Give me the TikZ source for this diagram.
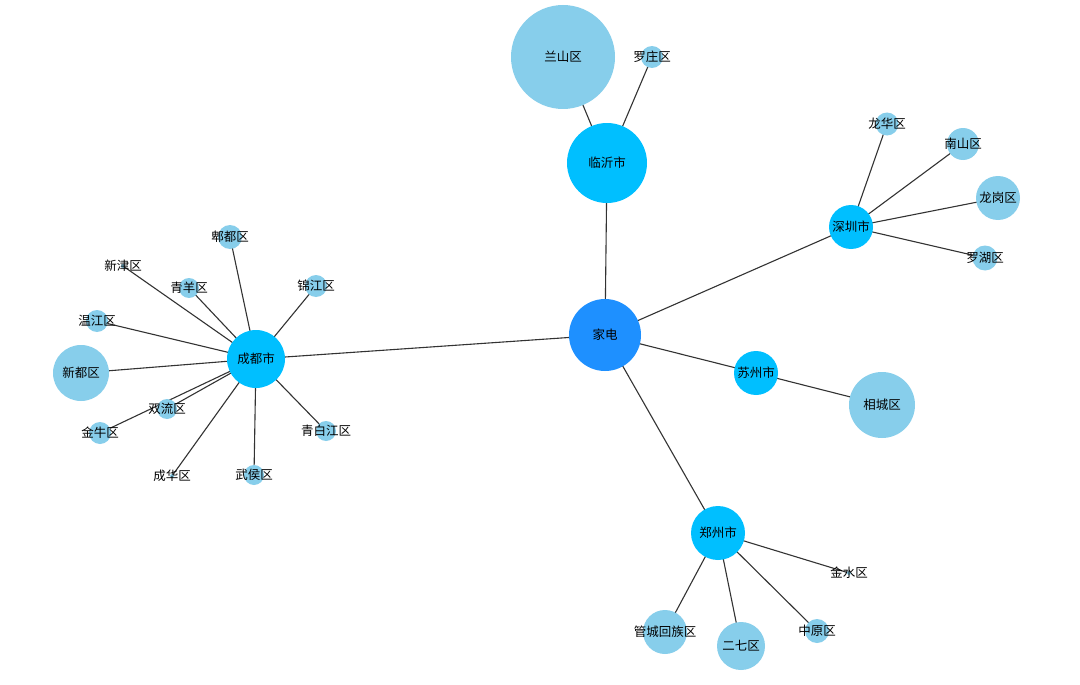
\documentclass[tikz,border=0pt]{standalone}
\usepackage{fontspec}
\setmainfont{Noto Sans CJK SC}
\usetikzlibrary{backgrounds}
\definecolor{rootc}{HTML}{1E90FF}
\definecolor{cityc}{HTML}{00BFFF}
\definecolor{distc}{HTML}{87CEEB}
\definecolor{edgec}{HTML}{333333}
\tikzset{
  nd/.style 2 args={circle,inner sep=0pt,minimum size=#1,
    label={[text=black,inner sep=0pt,font=\fontsize{12.5}{14}\selectfont]center:#2}},
  root/.style 2 args={nd={#1}{#2},fill=rootc},
  city/.style 2 args={nd={#1}{#2},fill=cityc},
  dist/.style 2 args={nd={#1}{#2},fill=distc},
  edge/.style={draw=edgec,line width=1.1pt}
}
\begin{document}
\begin{tikzpicture}[x=1pt,y=-1pt]
\useasboundingbox (0,0) rectangle (1080,685);
% root
\node[root={72pt}{家电}] (jd) at (605,335) {};
% cities
\node[city={80pt}{临沂市}] (ly) at (607,163) {};
\node[city={44pt}{深圳市}] (sz) at (851,227) {};
\node[city={44pt}{苏州市}] (su) at (756,373) {};
\node[city={54pt}{郑州市}] (zz) at (718,533) {};
\node[city={58pt}{成都市}] (cd) at (256,359) {};
% Linyi
\node[dist={104pt}{兰山区}] (ls) at (563,57) {};
\node[dist={22pt}{罗庄区}] (lz) at (652,57) {};
% Shenzhen
\node[dist={23pt}{龙华区}] (lh) at (887,124) {};
\node[dist={32pt}{南山区}] (ns) at (963,144) {};
\node[dist={44pt}{龙岗区}] (lg) at (998,198) {};
\node[dist={25pt}{罗湖区}] (lhu) at (985,258) {};
% Suzhou
\node[dist={66pt}{相城区}] (xc) at (882,405) {};
% Zhengzhou
\node[dist={44pt}{管城回族区}] (gc) at (665,632) {};
\node[dist={48pt}{二七区}] (eq) at (741,646) {};
\node[dist={24pt}{中原区}] (zy) at (817,631) {};
\node[dist={4pt}{金水区}] (js) at (849,573) {};
% Chengdu
\node[dist={24pt}{郫都区}] (pd) at (230,237) {};
\node[dist={4pt}{新津区}] (xj) at (123,266) {};
\node[dist={20pt}{青羊区}] (qy) at (189,288) {};
\node[dist={22pt}{锦江区}] (jj) at (316,286) {};
\node[dist={22pt}{温江区}] (wj) at (97,321) {};
\node[dist={56pt}{新都区}] (xd) at (81,373) {};
\node[dist={20pt}{双流区}] (sl) at (167,409) {};
\node[dist={22pt}{金牛区}] (jn) at (100,433) {};
\node[dist={20pt}{青白江区}] (qbj) at (326,431) {};
\node[dist={4pt}{成华区}] (ch) at (172,476) {};
\node[dist={20pt}{武侯区}] (wh) at (254,475) {};
\begin{scope}[on background layer]
\fill[white] (0,0) rectangle (1080,685);
\foreach \c in {ly,sz,su,zz,cd} \draw[edge] (jd.center) -- (\c.center);
\foreach \d in {ls,lz} \draw[edge] (ly.center) -- (\d.center);
\foreach \d in {lh,ns,lg,lhu} \draw[edge] (sz.center) -- (\d.center);
\draw[edge] (su.center) -- (xc.center);
\foreach \d in {gc,eq,zy,js} \draw[edge] (zz.center) -- (\d.center);
\foreach \d in {pd,xj,qy,jj,wj,xd,sl,jn,qbj,ch,wh} \draw[edge] (cd.center) -- (\d.center);
\end{scope}
\end{tikzpicture}
\end{document}
